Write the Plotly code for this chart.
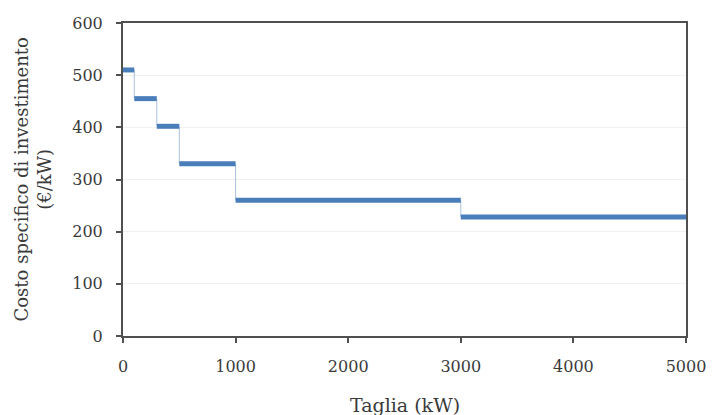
import plotly.graph_objects as go

# Step breakpoints (kW) and specific investment cost (€/kW)
taglia_bounds = [0, 100, 300, 500, 1000, 3000, 5000]
costo = [510, 455, 402, 330, 260, 228]

x_ticks = [0, 1000, 2000, 3000, 4000, 5000]
y_ticks = [0, 100, 200, 300, 400, 500, 600]

# Horizontal segments
hx, hy = [], []
for i, c in enumerate(costo):
    hx += [taglia_bounds[i], taglia_bounds[i + 1], None]
    hy += [c, c, None]

# Vertical connectors
vx, vy = [], []
for i in range(len(costo) - 1):
    xb = taglia_bounds[i + 1]
    vx += [xb, xb, None]
    vy += [costo[i], costo[i + 1], None]

fig = go.Figure()
fig.add_trace(go.Scatter(x=vx, y=vy, mode="lines",
                         line=dict(color="#a9c0e0", width=1), hoverinfo="skip"))
fig.add_trace(go.Scatter(x=hx, y=hy, mode="lines",
                         line=dict(color="#4a7ebb", width=5)))

font_family = "DejaVu Serif, Liberation Serif, serif"
txt_color = "#3a3a3a"
fig.update_layout(
    width=718, height=415,
    margin=dict(l=123, r=24, t=23, b=79),
    paper_bgcolor="white", plot_bgcolor="white",
    showlegend=False,
    font=dict(family=font_family, size=16, color=txt_color),
    xaxis=dict(
        range=[0, 5000], tickvals=x_ticks, ticktext=[str(v) for v in x_ticks],
        showgrid=False, zeroline=False,
        showline=True, linecolor="#505050", linewidth=2, mirror=True,
        ticks="outside", ticklen=5, tickcolor="#505050", tickwidth=1.5,
        ticklabelstandoff=10,
        tickfont=dict(size=16, family=font_family, color=txt_color),
    ),
    yaxis=dict(
        range=[0, 600], tickvals=y_ticks, ticktext=[str(v) for v in y_ticks],
        showgrid=True, gridcolor="#f0f0f0", gridwidth=1, zeroline=False,
        showline=True, linecolor="#505050", linewidth=2, mirror=True,
        ticks="outside", ticklen=5, tickcolor="#505050", tickwidth=1.5,
        ticklabelstandoff=10,
        tickfont=dict(size=16, family=font_family, color=txt_color),
    ),
    annotations=[
        dict(text="Taglia (kW)", xref="paper", yref="paper", x=0.5, y=0,
             xanchor="center", yanchor="middle", yshift=-69, showarrow=False,
             font=dict(size=19, family=font_family, color=txt_color)),
        dict(text="Costo specifico di investimento<br>(€/kW)", xref="paper", yref="paper",
             x=0, y=0.5, xanchor="center", yanchor="middle", xshift=-91,
             textangle=-90, showarrow=False,
             font=dict(size=18, family=font_family, color=txt_color)),
    ],
)

fig.write_html("out.html", config={"displayModeBar": False},
               post_script="document.body.style.margin='0';")
